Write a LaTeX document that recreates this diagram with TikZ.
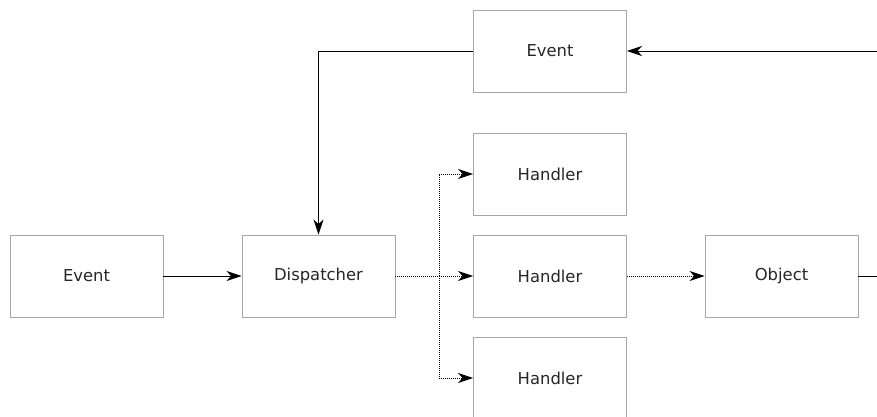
\documentclass[tikz,border=0pt]{standalone}
\usepackage{fontspec}
\setmainfont{DejaVu Sans}
\usetikzlibrary{arrows.meta}
\begin{document}
\begin{tikzpicture}[x=1pt,y=-1pt,
  box/.style={draw=black!35, line width=0.9pt, minimum width=153pt, minimum height=82pt,
    inner sep=0pt, text=black!85, font=\fontsize{16.4}{19}\selectfont},
  flow/.style={draw=black, line width=0.9pt, -{Stealth[length=15pt,width=10pt,inset=4.5pt]}},
  dotflow/.style={flow, dash pattern=on 1pt off 1pt},
  dotline/.style={draw=black, line width=0.9pt, dash pattern=on 1pt off 1pt}]
\useasboundingbox (0,0) rectangle (877,416);
\clip (0,0) rectangle (877,416);

% boxes
\node[box] (ev1)  at (86.5,276) {Event};
\node[box] (disp) at (318.5,276) {Dispatcher};
\node[box] (ev2)  at (550,51) {Event};
\node[box] (h1)   at (550,174) {Handler};
\node[box] (h2)   at (550,276) {Handler};
\node[box] (h3)   at (550,378) {Handler};
\node[box] (obj)  at (781.5,276) {Object};

% branch point of the dotted fan-out and the loop back on the right
\coordinate (fork) at (439,276);
\coordinate (loopR) at (895,276);

% solid connectors
\draw[flow] (ev1.east) -- (disp.west);
\draw[flow] (ev2.west) -| (disp.north);
\draw[flow] (obj.east) -- (loopR) |- (ev2.east);

% dotted fan-out to the handlers
\draw[dotline] (disp.east) -- (fork);
\draw[dotflow] (fork) |- (h1.west);
\draw[dotflow] (fork) -- (h2.west);
\draw[dotflow] (fork) |- (h3.west);
\draw[dotflow] (h2.east) -- (obj.west);
\end{tikzpicture}
\end{document}
